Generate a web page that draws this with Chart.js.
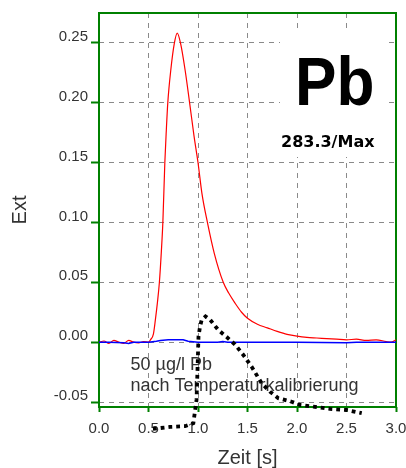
<!DOCTYPE html>
<html>
<head>
<meta charset="utf-8">
<title>Pb 283.3</title>
<script src="https://cdn.jsdelivr.net/npm/chart.js@4.4.1/dist/chart.umd.min.js"></script>
<style>
  body { margin: 0; background: #fff; }
  canvas { display: block; }
</style>
</head>
<body>
<canvas id="pbChart" width="406" height="468"></canvas>
<script>
// Pb signal (red)
const redTime = [0, 0.05, 0.1, 0.15, 0.2, 0.25, 0.3, 0.35, 0.4, 0.45, 0.5, 0.52, 0.55, 0.57, 0.59, 0.61, 0.63, 0.645, 0.665, 0.68, 0.695, 0.725, 0.76, 0.79, 0.825, 0.87, 0.915, 0.96, 1.0, 1.04, 1.095, 1.165, 1.255, 1.31, 1.375, 1.44, 1.5, 1.6, 1.7, 1.8, 1.9, 2.0, 2.1, 2.2, 2.3, 2.4, 2.5, 2.6, 2.7, 2.8, 2.9, 2.95, 3.0];
const redExt = [0, 0.001, -0.001, 0.0015, 0, -0.001, 0.0015, 0, -0.0005, 0.0005, 0, 0.002, 0.007, 0.019, 0.033, 0.05, 0.076, 0.1, 0.15, 0.177, 0.2, 0.227, 0.249, 0.258, 0.249, 0.227, 0.2, 0.172, 0.15, 0.124, 0.1, 0.074, 0.05, 0.041, 0.0325, 0.025, 0.02, 0.015, 0.012, 0.009, 0.0065, 0.005, 0.004, 0.0035, 0.003, 0.0025, 0.002, 0.0025, 0.0015, 0.002, 0.0005, 0, 0.002];

// background (blue)
const blueTime = [0, 0.1, 0.25, 0.3, 0.35, 0.5, 0.58, 0.62, 0.7, 0.85, 0.9, 1.0, 1.2, 1.25, 1.3, 2.0, 2.5, 2.6, 3.0];
const blueExt = [0, 0, -0.0005, -0.001, 0, 0, 0.0008, 0.0015, 0.002, 0.002, 0.0008, 0, 0, 0.0005, 0, 0, -0.0005, 0, 0];

// signal before temperature recalibration (black dotted)
const dotTime = [0.545, 0.717, 0.869, 0.953, 0.985, 0.995, 1.005, 1.02, 1.037, 1.076, 1.121, 1.205, 1.29, 1.374, 1.458, 1.542, 1.643, 1.727, 1.811, 1.946, 2.03, 2.165, 2.333, 2.502, 2.654];
const dotExt = [-0.0724, -0.0707, -0.0701, -0.0676, -0.0482, -0.0232, 0.0046, 0.0129, 0.0185, 0.0215, 0.0189, 0.0102, 0.0043, -0.0019, -0.0107, -0.0205, -0.0343, -0.0413, -0.0468, -0.0497, -0.0524, -0.0538, -0.0557, -0.0566, -0.0593];

const xTicks = [0, 0.5, 1, 1.5, 2, 2.5, 3];
const yTicks = [-0.05, 0, 0.05, 0.1, 0.15, 0.2, 0.25];

const toPoints = (xs, ys) => xs.map((x, i) => ({ x: x, y: ys[i] }));

const GREEN = '#008000';
const FONT = '"Liberation Sans", Arial, sans-serif';

// white label box, annotation texts and green frame
const overlay = {
  id: 'overlay',
  beforeDatasetsDraw(chart) {
    const { ctx, chartArea: a } = chart;
    ctx.save();
    ctx.fillStyle = '#fff';
    ctx.fillRect(280, 30, 105, 127);

    ctx.fillStyle = '#000';
    ctx.textAlign = 'left';
    ctx.textBaseline = 'alphabetic';
    // element symbol, a bit condensed
    ctx.save();
    ctx.translate(295, 105);
    ctx.scale(0.9, 1);
    ctx.font = 'bold 69px ' + FONT;
    ctx.fillText('Pb', 0, 0);
    ctx.restore();
    ctx.font = 'bold 16px "DejaVu Sans", sans-serif';
    ctx.fillText('283.3/Max', 281, 147);

    ctx.fillStyle = '#333';
    ctx.font = '18px ' + FONT;
    ctx.fillText('50 µg/l Pb', 130.5, 369.5);
    ctx.fillText('nach Temperaturkalibrierung', 130.5, 390.5);

    ctx.strokeStyle = GREEN;
    ctx.lineWidth = 2;
    ctx.strokeRect(a.left, a.top, a.right - a.left, a.bottom - a.top);
    ctx.restore();
  }
};

const ctx = document.getElementById('pbChart').getContext('2d');
new Chart(ctx, {
  type: 'line',
  data: {
    datasets: [
      {
        label: 'vorher',
        data: toPoints(dotTime, dotExt),
        borderColor: '#000',
        borderWidth: 3.8,
        borderDash: [3.8, 4],
        pointRadius: 0,
        tension: 0,
        clip: false,
        order: 0
      },
      {
        label: 'Blank',
        data: toPoints(blueTime, blueExt),
        borderColor: '#0000ff',
        borderWidth: 1.5,
        pointRadius: 0,
        tension: 0,
        order: 1
      },
      {
        label: 'Pb',
        data: toPoints(redTime, redExt),
        borderColor: '#ff0000',
        borderWidth: 1.2,
        pointRadius: 0,
        cubicInterpolationMode: 'monotone',
        order: 2
      }
    ]
  },
  options: {
    responsive: false,
    animation: false,
    layout: { padding: { top: 13, right: 10, left: 0, bottom: 0 } },
    plugins: { legend: { display: false }, tooltip: { enabled: false } },
    scales: {
      x: {
        type: 'linear',
        min: 0,
        max: 3,
        afterBuildTicks: s => { s.ticks = xTicks.map(v => ({ value: v })); },
        afterFit: s => { s.height = 61; s.paddingLeft = 0; s.paddingRight = 0; },
        grid: { color: '#8a8a8a', lineWidth: 1, tickLength: 5, tickColor: GREEN, tickWidth: 2, tickBorderDash: [] },
        border: { display: false, dash: [5, 5] },
        ticks: {
          color: '#333', autoSkip: false, maxRotation: 0, padding: 8,
          font: { family: FONT, size: 15 },
          callback: v => v.toFixed(1)
        },
        title: {
          display: true, text: 'Zeit [s]', color: '#333',
          font: { family: FONT, size: 20, lineHeight: 1 },
          padding: { top: 0, bottom: 0 }
        }
      },
      y: {
        min: -0.0541,
        max: 0.2748,
        afterBuildTicks: s => { s.ticks = yTicks.map(v => ({ value: v })); },
        afterFit: s => { s.width = 99; s.paddingTop = 0; s.paddingBottom = 0; },
        grid: { color: '#8a8a8a', lineWidth: 1, tickLength: 8, tickColor: GREEN, tickWidth: 2, tickBorderDash: [] },
        border: { display: false, dash: [5, 5] },
        ticks: {
          color: '#333', autoSkip: false, padding: 3, labelOffset: -6,
          font: { family: FONT, size: 15 },
          callback: v => v.toFixed(2)
        },
        title: {
          display: true, text: 'Ext', color: '#333',
          font: { family: FONT, size: 20, lineHeight: 1 },
          padding: { top: 10, bottom: 0 }
        }
      }
    }
  },
  plugins: [overlay]
});
</script>
</body>
</html>
